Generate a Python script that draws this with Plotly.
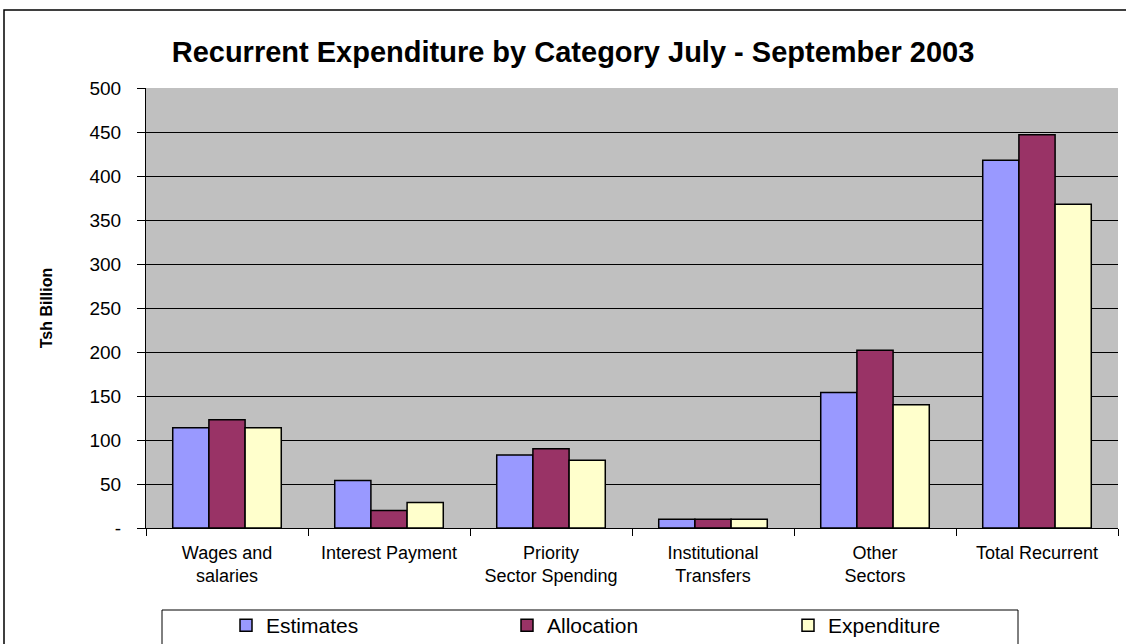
import plotly.graph_objects as go

categories = ["Wages and<br>salaries", "Interest Payment", "Priority<br>Sector Spending",
              "Institutional<br>Transfers", "Other<br>Sectors", "Total Recurrent"]
estimates = [114, 54, 83, 10, 154, 418]
allocation = [123, 20, 90, 10, 202, 447]
expenditure = [114, 29, 77, 10, 140, 368]
y_tickvals = [0, 50, 100, 150, 200, 250, 300, 350, 400, 450, 500]
y_ticktext = ["-", "50", "100", "150", "200", "250", "300", "350", "400", "450", "500"]

W, H = 1126, 644
L, R, T, B = 146, 8, 88, 116
pw = W - L - R
ph = H - T - B

def px_x(x):
    return (x - L) / pw

def px_y(y):
    return (H - B - y) / ph

fig = go.Figure()
for name, vals, col in [("Estimates", estimates, "#9999FF"),
                        ("Allocation", allocation, "#993366"),
                        ("Expenditure", expenditure, "#FFFFCC")]:
    fig.add_trace(go.Bar(x=categories, y=vals, name=name,
                         marker=dict(color=col, line=dict(color="black", width=1.5))))

fig.update_layout(
    width=W, height=H,
    margin=dict(l=L, r=R, t=T, b=B, autoexpand=False),
    paper_bgcolor="white",
    plot_bgcolor="#C0C0C0",
    barmode="group",
    bargap=0.33,
    bargroupgap=0,
    font=dict(family="Liberation Sans, Arial, sans-serif", color="black"),
    title=dict(text="<b>Recurrent Expenditure by Category July - September 2003</b>",
               x=573 / W, xref="container", xanchor="center", y=1 - 52 / H, yanchor="middle",
               font=dict(size=29, color="black")),
    showlegend=True,
    legend=dict(orientation="h", x=px_x(226), xanchor="left",
                y=1 - 605 / H, yref="container", yanchor="top",
                entrywidth=236, entrywidthmode="pixels",
                font=dict(size=21), bgcolor="rgba(0,0,0,0)"),
    xaxis=dict(showline=True, linecolor="black", linewidth=1, ticks="outside",
               tickson="boundaries", ticklen=7, tickcolor="black",
               tickfont=dict(size=18), showgrid=False, ticklabelstandoff=8),
    yaxis=dict(range=[0, 500], tickvals=y_tickvals, ticktext=y_ticktext,
               showline=True, linecolor="black", linewidth=1, ticks="outside",
               ticklen=8, tickcolor="black", showgrid=True, gridcolor="black",
               gridwidth=1, tickfont=dict(size=19), zeroline=False,
               ticklabelstandoff=12,
               title=dict(text="<b>Tsh Billion</b>", font=dict(size=16), standoff=32)),
    shapes=[
        dict(type="rect", xref="paper", yref="paper",
             x0=px_x(162), x1=px_x(1018), y0=px_y(610), y1=px_y(660),
             line=dict(color="black", width=1), fillcolor="rgba(0,0,0,0)"),
        dict(type="rect", xref="paper", yref="paper",
             x0=px_x(4), x1=px_x(1140), y0=px_y(10), y1=px_y(700),
             line=dict(color="black", width=1.5), fillcolor="rgba(0,0,0,0)"),
    ],
)

fig.write_html("out.html", config={"displayModeBar": False},
               post_script="document.body.style.margin='0';document.body.style.overflow='hidden';")
